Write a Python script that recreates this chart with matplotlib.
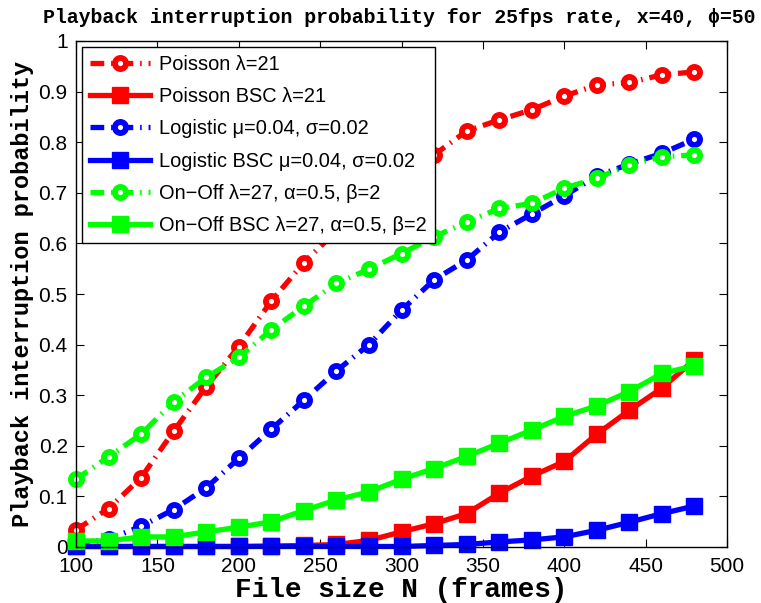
import matplotlib
matplotlib.use("Agg")
import matplotlib.pyplot as plt
import numpy as np

N = [100, 120, 140, 160, 180, 200, 220, 240, 260, 280, 300, 320, 340, 360, 380, 400, 420, 440, 460, 480]

poisson = [0.034, 0.076, 0.137, 0.229, 0.317, 0.396, 0.486, 0.562, 0.625, 0.682, 0.732, 0.775, 0.822,
           0.844, 0.864, 0.891, 0.913, 0.918, 0.933, 0.939]
poisson_bsc = [0.001, 0.001, 0.001, 0.001, 0.001, 0.001, 0.002, 0.003, 0.005, 0.013, 0.030, 0.046, 0.066,
               0.106, 0.140, 0.169, 0.223, 0.270, 0.314, 0.370]
logistic = [0.006, 0.015, 0.041, 0.074, 0.117, 0.175, 0.233, 0.290, 0.348, 0.400, 0.468, 0.528, 0.567,
            0.622, 0.658, 0.694, 0.733, 0.757, 0.778, 0.806]
logistic_bsc = [0.001, 0.001, 0.001, 0.001, 0.001, 0.001, 0.001, 0.001, 0.001, 0.001, 0.001, 0.003, 0.005,
                0.010, 0.014, 0.020, 0.033, 0.049, 0.066, 0.081]
onoff = [0.134, 0.178, 0.223, 0.287, 0.335, 0.375, 0.429, 0.476, 0.521, 0.549, 0.580, 0.613, 0.642,
         0.669, 0.679, 0.709, 0.729, 0.755, 0.771, 0.775]
onoff_bsc = [0.012, 0.012, 0.020, 0.020, 0.030, 0.039, 0.050, 0.072, 0.093, 0.109, 0.134, 0.155, 0.179,
             0.205, 0.231, 0.258, 0.279, 0.307, 0.343, 0.358]

labels = ["Poisson \u03bb=21", "Poisson BSC \u03bb=21",
          "Logistic \u03bc=0.04, \u03c3=0.02", "Logistic BSC \u03bc=0.04, \u03c3=0.02",
          "On\u2212Off \u03bb=27, \u03b1=0.5, \u03b2=2", "On\u2212Off BSC \u03bb=27, \u03b1=0.5, \u03b2=2"]

xticks = [100, 150, 200, 250, 300, 350, 400, 450, 500]
yticks = [0, 0.1, 0.2, 0.3, 0.4, 0.5, 0.6, 0.7, 0.8, 0.9, 1]
yticklabels = ["0", "0.1", "0.2", "0.3", "0.4", "0.5", "0.6", "0.7", "0.8", "0.9", "1"]

plt.rcParams['font.family'] = ['Liberation Sans', 'DejaVu Sans']

fig = plt.figure(figsize=(7.61, 6.03), dpi=100)
ax = fig.add_axes([76/761, 1-547/603, (727-76)/761, (547-41)/603])

dashdot = (0, (2.6, 1.3, 0.3, 1.3))
lw = 3.8
circ = dict(marker='o', markersize=8, markeredgewidth=4.2, markerfacecolor='white', clip_on=False)
sq = dict(marker='s', markersize=11, markeredgewidth=1, clip_on=False)

red, blue, green = '#ff0000', '#0000ff', '#00ff00'

ax.plot(N, poisson, color=red, lw=lw, linestyle=dashdot, markeredgecolor=red, label=labels[0], **circ)
ax.plot(N, poisson_bsc, color=red, lw=lw, linestyle='-', markeredgecolor=red, label=labels[1], **sq)
ax.plot(N, logistic, color=blue, lw=lw, linestyle=dashdot, markeredgecolor=blue, label=labels[2], **circ)
ax.plot(N, logistic_bsc, color=blue, lw=lw, linestyle='-', markeredgecolor=blue, label=labels[3], **sq)
ax.plot(N, onoff, color=green, lw=lw, linestyle=dashdot, markeredgecolor=green, label=labels[4], **circ)
ax.plot(N, onoff_bsc, color=green, lw=lw, linestyle='-', markeredgecolor=green, label=labels[5], **sq)

ax.set_xlim(100, 500)
ax.set_ylim(0, 1)
ax.set_xticks(xticks)
ax.set_yticks(yticks)
ax.set_yticklabels(yticklabels)
ax.tick_params(direction='in', top=True, right=True, labelsize=15, length=6, width=0.8)
ax.tick_params(axis='x', pad=7)
ax.tick_params(axis='y', pad=6)
for s in ax.spines.values():
    s.set_linewidth(1.0)

mono = ['Liberation Mono', 'DejaVu Sans Mono']
ax.set_xlabel("File size N (frames)", fontsize=20, fontweight='bold', family=mono, labelpad=1)
ax.set_ylabel("Playback interruption probability", fontsize=17, fontweight='bold', family=mono, labelpad=3)
fig.text(399.5/761, 1 - 23/603, "Playback interruption probability for 25fps rate, x=40, \u03d5=50",
         fontsize=14.3, fontweight='bold', family=mono, ha='center', va='baseline')

leg = ax.legend(loc='upper left', fontsize=14.4, frameon=True, fancybox=False, edgecolor='black',
                handlelength=3.0, handletextpad=0.45, borderpad=0.4, labelspacing=0.66,
                borderaxespad=0.3, framealpha=1)
leg.get_frame().set_linewidth(1.0)

fig.savefig("out.png", dpi=100)
